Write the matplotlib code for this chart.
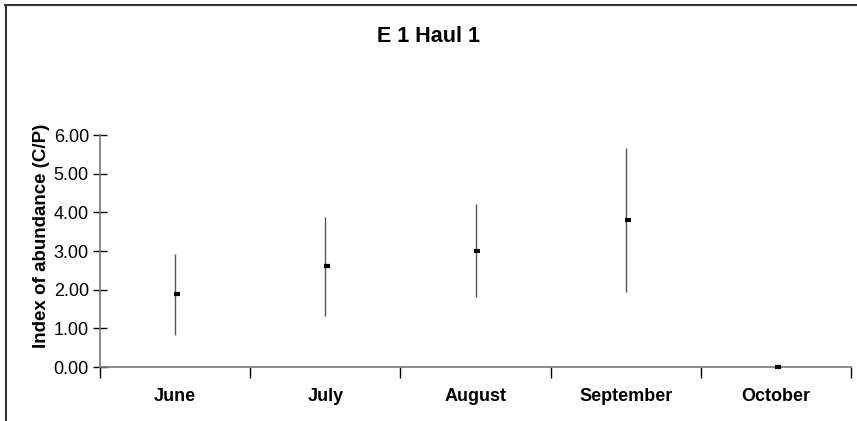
import numpy as np
import matplotlib.pyplot as plt
from matplotlib.lines import Line2D

plt.rcParams['font.family'] = ['Liberation Sans', 'DejaVu Sans']

# Monthly index of abundance with upper/lower limits
months = ['June', 'July', 'August', 'September', 'October']
means = [1.88, 2.61, 3.00, 3.81, 0.00]
upper = [2.92, 3.89, 4.21, 5.66, 0.00]
lower = [0.83, 1.33, 1.80, 1.95, 0.00]

fig = plt.figure(figsize=(8.57, 4.21), dpi=100)
ax = fig.add_axes([100 / 857, 54 / 421, 751 / 857, 232 / 421])

x = np.arange(len(months))
means = np.array(means)
yerr = [means - np.array(lower), np.array(upper) - means]
ax.errorbar(x, means, yerr=yerr, fmt='none', ecolor='#555555', elinewidth=1.0, capsize=0)
ax.plot(x + 0.012, means, linestyle='none', marker='_', markersize=4,
        markeredgewidth=3, color='black', zorder=5, clip_on=False)

ax.set_xlim(-0.5, len(months) - 0.5)
ax.set_ylim(0, 6)
ax.set_yticks(np.arange(0, 7, 1))
ax.set_yticklabels([f'{v:.2f}' for v in range(7)], fontsize=13)

# category labels centred, tick marks on the boundaries
ax.set_xticks(np.arange(-0.5, len(months)), minor=False)
ax.set_xticklabels([])
ax.set_xticks(x, minor=True)
ax.set_xticklabels(months, minor=True, fontsize=13, fontweight='bold')
ax.tick_params(axis='x', which='major', direction='out', length=8, width=1, color='black')
ax.tick_params(axis='x', which='minor', length=0, pad=15)
ax.tick_params(axis='y', direction='inout', length=10, width=1, color='black', pad=3)

for side in ['top', 'right']:
    ax.spines[side].set_visible(False)
for side in ['left', 'bottom']:
    ax.spines[side].set_color('#777777')
    ax.spines[side].set_linewidth(1.2)

ax.set_ylabel('Index of abundance (C/P)', fontsize=13.5, fontweight='bold')
ax.yaxis.set_label_coords(-0.067, 0.565)
fig.text(0.5, 1 - 37 / 421, 'E 1 Haul 1', ha='center', va='center',
         fontsize=15.5, fontweight='bold')

# outer chart border (top and left edges)
fig.add_artist(Line2D([5 / 857, 1], [1 - 5 / 421, 1 - 5 / 421], transform=fig.transFigure,
                      color='#333333', linewidth=1.5))
fig.add_artist(Line2D([6 / 857, 6 / 857], [0, 1 - 5 / 421], transform=fig.transFigure,
                      color='#333333', linewidth=1.5))

fig.savefig('out.png', dpi=100)
